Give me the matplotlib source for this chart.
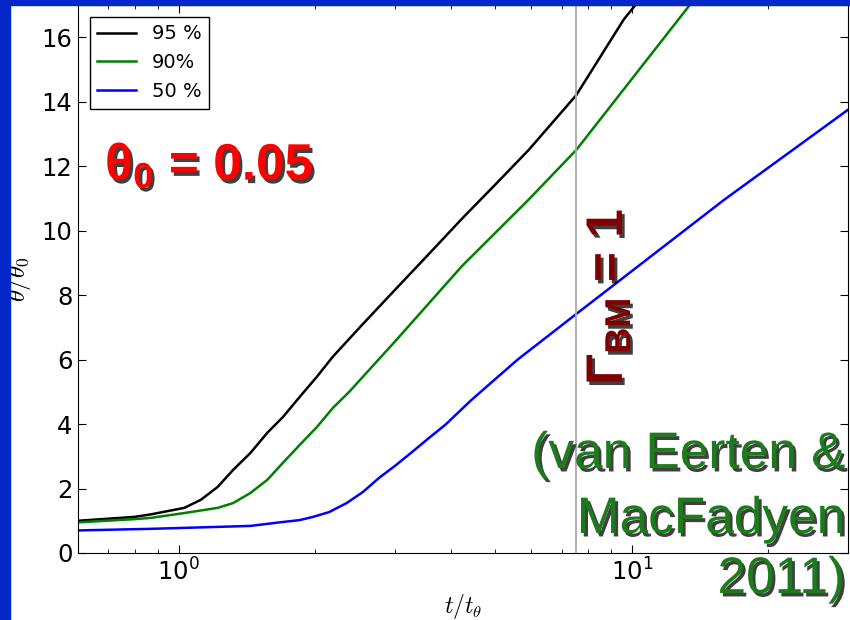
import matplotlib
matplotlib.use("Agg")
import matplotlib.pyplot as plt
import matplotlib.patheffects as pe
from matplotlib.patches import Rectangle
from matplotlib.ticker import LogLocator

plt.rcParams["mathtext.fontset"] = "custom"
plt.rcParams["mathtext.rm"] = "Liberation Sans:bold"
plt.rcParams["mathtext.bf"] = "Liberation Sans:bold"
plt.rcParams["mathtext.it"] = "Liberation Sans:bold"

# ── data ──────────────────────────────────────────────────────────────────────
t95 = [0.6, 0.8, 0.87, 1.03, 1.12, 1.22, 1.32, 1.44, 1.57, 1.70, 1.85, 2.02, 2.19,
       2.55, 3.02, 3.57, 4.22, 5.0, 5.92, 7.54, 9.6, 10.6]
y95 = [1.0, 1.12, 1.2, 1.40, 1.65, 2.05, 2.58, 3.1, 3.73, 4.22, 4.84, 5.47, 6.09,
       7.1, 8.2, 9.28, 10.37, 11.43, 12.5, 14.2, 16.55, 17.3]

t90 = [0.6, 0.8, 0.87, 1.03, 1.22, 1.32, 1.44, 1.57, 1.70, 1.85, 2.02, 2.19, 2.38,
       3.02, 4.22, 5.92, 7.54, 13.6]
y90 = [0.95, 1.05, 1.09, 1.24, 1.40, 1.55, 1.86, 2.27, 2.80, 3.35, 3.91, 4.50, 5.0,
       6.6, 8.9, 10.96, 12.5, 17.1]

t50 = [0.6, 0.87, 1.22, 1.44, 1.67, 1.85, 1.98, 2.15, 2.35, 2.55, 2.77, 3.02, 3.28,
       3.57, 3.88, 4.43, 5.6, 7.6, 16.0, 30.0]
y50 = [0.7, 0.75, 0.81, 0.84, 0.95, 1.02, 1.12, 1.27, 1.55, 1.89, 2.33, 2.73, 3.14,
       3.57, 3.98, 4.75, 6.0, 7.45, 10.96, 13.75]

labels = ["95 %", "90%", "50 %"]
colors = ["black", "green", "blue"]
t_gamma1 = 7.54

W, H = 850, 620
fig = plt.figure(figsize=(8.5, 6.2), dpi=100, facecolor="white")
ax = fig.add_axes([78 / W, 67 / H, 770 / W, 548 / H])

for t, y, lab, c in zip([t95, t90, t50], [y95, y90, y50], labels, colors):
    ax.plot(t, y, color=c, lw=1.8, label=lab)
ax.axvline(t_gamma1, color="#aaaaaa", lw=1.3)

ax.set_xscale("log")
ax.set_xlim(0.6, 30)
ax.set_ylim(0, 17)
ax.set_yticks(range(0, 17, 2))
ax.xaxis.set_minor_locator(LogLocator(base=10, subs=range(2, 10)))
ax.tick_params(which="both", direction="in", top=True, right=True, labelsize=17.5, pad=4)
ax.tick_params(which="major", length=6)
ax.tick_params(which="minor", length=3)

ax.set_xlabel(r"$t/t_\theta$", fontsize=17, math_fontfamily="cm")
ax.set_ylabel(r"$\theta/\theta_0$", fontsize=18, math_fontfamily="cm")
ax.xaxis.set_label_coords(0.5, -0.072)
ax.yaxis.set_label_coords(-0.058, 0.5)

leg = ax.legend(loc="upper left", fontsize=14, fancybox=False, framealpha=1,
                edgecolor="black", borderaxespad=0.6, handlelength=2.0)
leg.get_frame().set_linewidth(1.0)

# ── slide annotations ─────────────────────────────────────────────────────────
shadow = [pe.withSimplePatchShadow(offset=(2, -2.5), shadow_rgbFace="black", alpha=0.75)]

fig.text(105 / W, 1 - 180 / H, r"$\mathbf{\theta_0}$ = 0.05", fontsize=37,
         family="Liberation Sans", weight="bold",
         color="#ff0000", ha="left", va="baseline", path_effects=shadow)

fig.text(622 / W, 1 - 385 / H, r"$\mathbf{\Gamma_{BM}}$ = 1", fontsize=37,
         family="Liberation Sans", weight="bold",
         color="#800000", rotation=90, rotation_mode="anchor",
         ha="left", va="baseline", path_effects=shadow)

green = "#1c7c1c"
for txt, yb in [("(van Eerten &", 468), ("MacFadyen", 533), ("2011)", 593)]:
    fig.text(845 / W, 1 - yb / H, txt, fontsize=37, family="Liberation Sans",
             color=green, ha="right", va="baseline", path_effects=shadow)

# blue slide border
fig.patches.append(Rectangle((0, 0), 10 / W, 1, transform=fig.transFigure,
                             color="#0428c8", zorder=10))
fig.patches.append(Rectangle((0, 1 - 5 / H), 1, 5 / H, transform=fig.transFigure,
                             color="#0428c8", zorder=10))

fig.savefig("out.png", dpi=100, facecolor="white")
